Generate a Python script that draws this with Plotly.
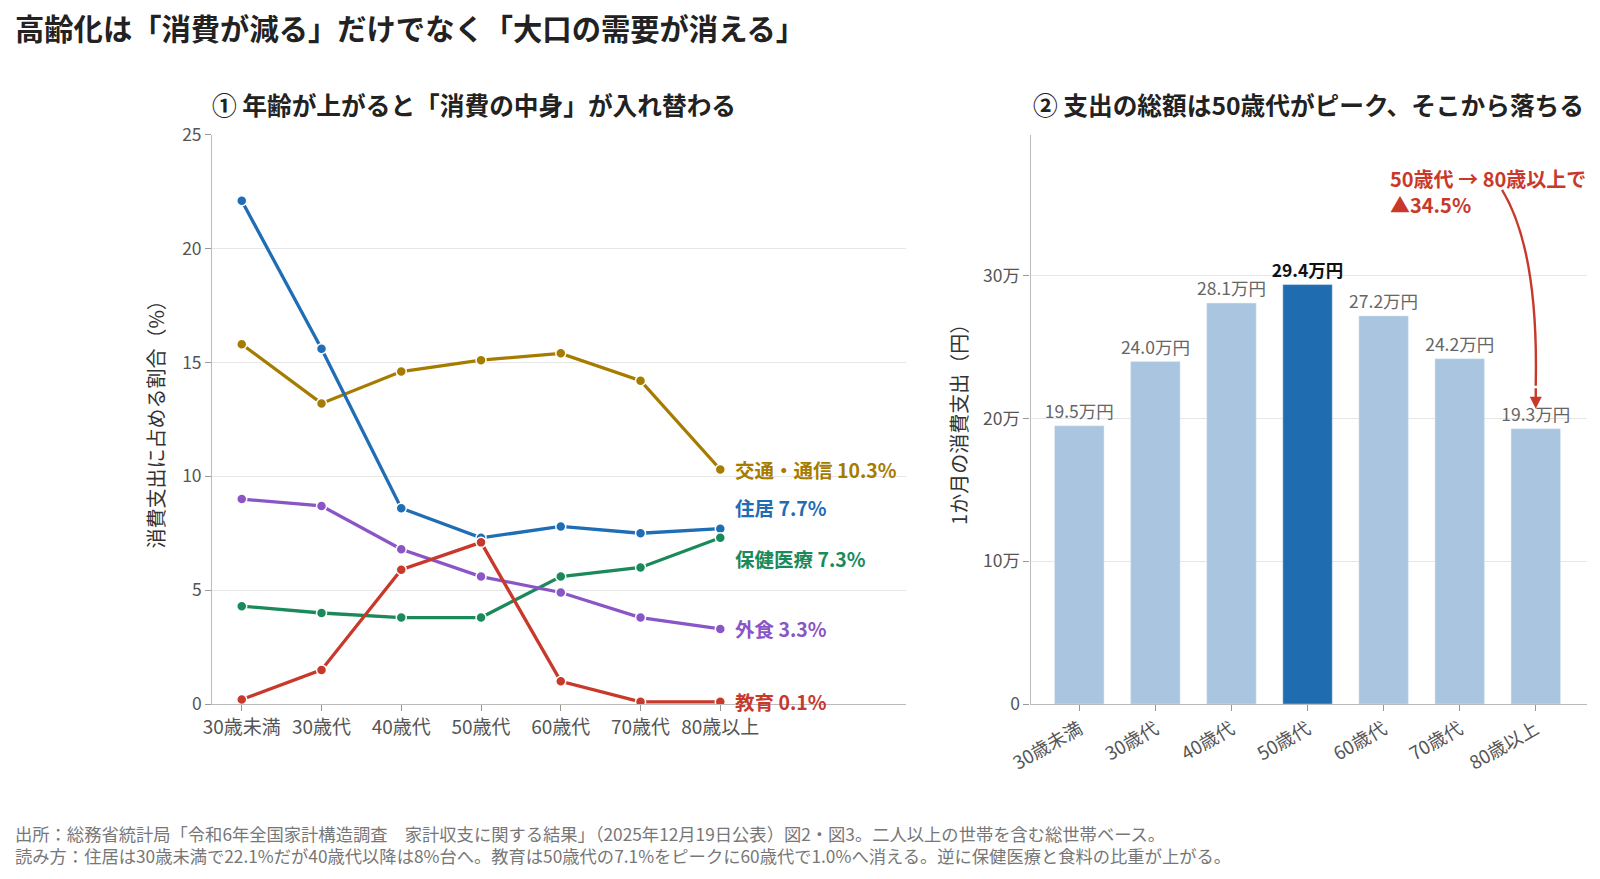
import plotly.graph_objects as go
from plotly.subplots import make_subplots

ages = ["30歳未満", "30歳代", "40歳代", "50歳代", "60歳代", "70歳代", "80歳以上"]

# share of consumption (%)
housing = [22.1, 15.6, 8.6, 7.3, 7.8, 7.5, 7.7]
transport = [15.8, 13.2, 14.6, 15.1, 15.4, 14.2, 10.3]
eating_out = [9.0, 8.7, 6.8, 5.6, 4.9, 3.8, 3.3]
health = [4.3, 4.0, 3.8, 3.8, 5.6, 6.0, 7.3]
education = [0.2, 1.5, 5.9, 7.1, 1.0, 0.1, 0.1]

# monthly spending (yen)
spending = [195000, 240000, 281000, 294000, 272000, 242000, 193000]
spend_labels = ["19.5万円", "24.0万円", "28.1万円", "29.4万円", "27.2万円", "24.2万円", "19.3万円"]

FONT = "Noto Sans CJK JP"
W, H = 1600, 879
S = 1 / 0.98  # layout was measured on a 0.98-scaled view

def px(x):
    return x * S / W

def py(y):
    return 1 - y * S / H

series = [
    ("交通・通信", transport, "#a67c00", 0),
    ("住居", housing, "#1f6db4", 21),
    ("保健医療", health, "#1b8a5a", -21),
    ("外食", eating_out, "#8a55c6", 0),
    ("教育", education, "#c8392b", 0),
]

fig = make_subplots(rows=1, cols=2)

for name, vals, col, shift in series:
    fig.add_trace(go.Scatter(x=ages, y=vals, mode="lines+markers", name=name,
                             line=dict(color=col, width=3.3),
                             marker=dict(size=10, color=col, line=dict(color="white", width=1.5)),
                             showlegend=False), row=1, col=1)
    fig.add_annotation(x=ages[-1], y=vals[-1], xref="x", yref="y",
                       text="<b>%s %.1f%%</b>" % (name, vals[-1]), showarrow=False,
                       xanchor="left", xshift=13, yshift=shift,
                       font=dict(family=FONT, size=19.5, color=col))

peak = spending.index(max(spending))
bar_colors = ["#1f6db0" if i == peak else "#a9c5df" for i in range(len(ages))]
bar_text = ["<b>%s</b>" % t if i == peak else t for i, t in enumerate(spend_labels)]
text_colors = ["#111" if i == peak else "#666" for i in range(len(ages))]
fig.add_trace(go.Bar(x=ages, y=spending, marker_color=bar_colors, width=0.65,
                     text=bar_text, textposition="outside", cliponaxis=False,
                     constraintext="none",
                     textfont=dict(family=FONT, size=17.5, color=text_colors),
                     showlegend=False), row=1, col=2)

axis_common = dict(showline=True, linecolor="#bbb", linewidth=1.3, ticks="outside",
                   tickcolor="#999", ticklen=6, automargin=False)
ytick_font = dict(family=FONT, size=17.5, color="#555")
xtick_font = dict(family=FONT, size=19, color="#555")

fig.update_xaxes(domain=[px(208), px(888)], range=[-0.37, 8.33], showgrid=False,
                 tickangle=0, tickfont=xtick_font, **axis_common, row=1, col=1)
fig.update_yaxes(domain=[py(690), py(132)], range=[0, 25], dtick=5, showgrid=True,
                 gridcolor="#e6e6e6", zeroline=False, tickfont=ytick_font,
                 title=dict(text="消費支出に占める割合（%）", standoff=12,
                            font=dict(family=FONT, size=20, color="#333")),
                 **axis_common, row=1, col=1)
fig.update_xaxes(domain=[px(1010), px(1555)], range=[-0.64, 6.67], showgrid=False,
                 tickangle=-30, tickfont=dict(family=FONT, size=18.5, color="#555"),
                 **axis_common, row=1, col=2)
fig.update_yaxes(domain=[py(690), py(132)], range=[0, 399000], showgrid=True,
                 gridcolor="#e6e6e6", zeroline=False, tickfont=ytick_font,
                 tickvals=[0, 100000, 200000, 300000], ticktext=["0", "10万", "20万", "30万"],
                 title=dict(text="1か月の消費支出（円）", standoff=10,
                            font=dict(family=FONT, size=20, color="#333")),
                 **axis_common, row=1, col=2)

# titles
fig.add_annotation(x=px(13), y=py(26), xref="paper", yref="paper", xanchor="left", yanchor="middle",
                   text="<b>高齢化は「消費が減る」だけでなく「大口の需要が消える」</b>", showarrow=False,
                   font=dict(family=FONT, size=29.3, color="#222"))
fig.add_annotation(x=px(206), y=py(102), xref="paper", yref="paper", xanchor="left", yanchor="middle",
                   text="<b>① 年齢が上がると「消費の中身」が入れ替わる</b>", showarrow=False,
                   font=dict(family=FONT, size=24.7, color="#222"))
fig.add_annotation(x=px(1010), y=py(102), xref="paper", yref="paper", xanchor="left", yanchor="middle",
                   text="<b>② 支出の総額は50歳代がピーク、そこから落ちる</b>", showarrow=False,
                   font=dict(family=FONT, size=24.7, color="#222"))

# callout on right chart
fig.add_annotation(x=px(1360), y=py(159), xref="paper", yref="paper", xanchor="left", yanchor="top",
                   align="left", text="<b>50歳代 → 80歳以上で<br>▲34.5%</b>", showarrow=False,
                   font=dict(family=FONT, size=20, color="#c8392b"))
fig.add_shape(type="path", xref="paper", yref="paper",
              path="M %f,%f Q %f,%f %f,%f" % (px(1472), py(186), px(1508), py(245), px(1505), py(378)),
              line=dict(color="#c8392b", width=2.4))
fig.add_annotation(x=ages[-1], y=spending[-1] + 14000, xref="x2", yref="y2", ax=0, ay=-22,
                   text="", showarrow=True, arrowhead=2, arrowsize=1, arrowwidth=2.4,
                   arrowcolor="#c8392b")

# footnotes
fig.add_annotation(x=px(13), y=py(817), xref="paper", yref="paper", xanchor="left", yanchor="middle",
                   text="出所：総務省統計局「令和6年全国家計構造調査　家計収支に関する結果」（2025年12月19日公表）図2・図3。二人以上の世帯を含む総世帯ベース。",
                   showarrow=False, font=dict(family=FONT, size=17.3, color="#777"))
fig.add_annotation(x=px(13), y=py(838), xref="paper", yref="paper", xanchor="left", yanchor="middle",
                   text="読み方：住居は30歳未満で22.1%だが40歳代以降は8%台へ。教育は50歳代の7.1%をピークに60歳代で1.0%へ消える。逆に保健医療と食料の比重が上がる。",
                   showarrow=False, font=dict(family=FONT, size=17.3, color="#777"))

fig.update_layout(width=W, height=H, margin=dict(l=0, r=0, t=0, b=0, pad=0, autoexpand=False),
                  plot_bgcolor="white", paper_bgcolor="white",
                  font=dict(family=FONT, color="#333"), bargap=0.35)

# page margin off so the figure sits flush in the window
fig.write_html("out.html", config={"displayModeBar": False},
               post_script="document.body.style.margin='0';document.body.style.overflow='hidden';")
